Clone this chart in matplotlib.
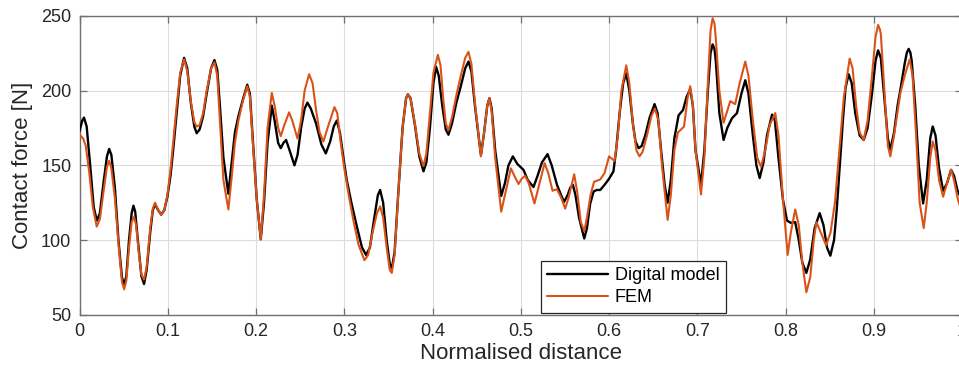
import matplotlib

matplotlib.use("Agg")
import matplotlib.pyplot as plt

# values (normalised distance, contact force in N)
dm_x = [
    0.000, 0.003, 0.005, 0.008, 0.012, 0.016, 0.0195, 0.023, 0.027, 0.031, 0.0335, 0.036,
    0.040, 0.044, 0.048, 0.0505, 0.053, 0.056, 0.059, 0.061, 0.063, 0.066, 0.070, 0.073,
    0.076, 0.080, 0.083, 0.0855, 0.089, 0.0925, 0.096, 0.0995, 0.103, 0.106, 0.110, 0.114,
    0.1184, 0.122, 0.126, 0.130, 0.1327, 0.136, 0.140, 0.144, 0.149, 0.1528, 0.156, 0.159,
    0.163, 0.1686, 0.172, 0.176, 0.180, 0.185, 0.190, 0.193, 0.196, 0.2008, 0.2053, 0.209,
    0.213, 0.2178, 0.221, 0.225, 0.228, 0.231, 0.234, 0.238, 0.2435, 0.247, 0.251, 0.255,
    0.2582, 0.262, 0.268, 0.274, 0.279, 0.284, 0.288, 0.2915, 0.295, 0.299, 0.3028, 0.308,
    0.3142, 0.320, 0.3247, 0.329, 0.334, 0.338, 0.3406, 0.344, 0.348, 0.3515, 0.3538, 0.357,
    0.361, 0.366, 0.370, 0.372, 0.375, 0.380, 0.385, 0.3897, 0.393, 0.397, 0.401, 0.404,
    0.407, 0.411, 0.415, 0.418, 0.422, 0.427, 0.432, 0.437, 0.4407, 0.444, 0.448, 0.4548,
    0.458, 0.462, 0.4645, 0.467, 0.471, 0.4778, 0.482, 0.486, 0.491, 0.496, 0.503, 0.508,
    0.5144, 0.519, 0.524, 0.5303, 0.535, 0.541, 0.545, 0.549, 0.553, 0.556, 0.559, 0.562,
    0.566, 0.5719, 0.575, 0.5785, 0.5825, 0.586, 0.590, 0.595, 0.600, 0.605, 0.608, 0.612,
    0.616, 0.6195, 0.623, 0.627, 0.630, 0.6335, 0.637, 0.641, 0.646, 0.6516, 0.655, 0.659,
    0.663, 0.6664, 0.670, 0.674, 0.6788, 0.6838, 0.688, 0.692, 0.695, 0.698, 0.7042, 0.708,
    0.712, 0.715, 0.7174, 0.7195, 0.721, 0.725, 0.7298, 0.734, 0.7393, 0.745, 0.750, 0.7544,
    0.758, 0.763, 0.767, 0.7707, 0.775, 0.779, 0.7847, 0.788, 0.792, 0.7971, 0.8017, 0.806,
    0.811, 0.815, 0.819, 0.8236, 0.828, 0.833, 0.8387, 0.843, 0.847, 0.8508, 0.855, 0.858,
    0.8614, 0.865, 0.868, 0.8716, 0.875, 0.879, 0.884, 0.8886, 0.893, 0.898, 0.902, 0.9049,
    0.908, 0.912, 0.916, 0.9188, 0.923, 0.927, 0.930, 0.935, 0.9375, 0.9396, 0.9415, 0.943,
    0.947, 0.951, 0.9559, 0.960, 0.964, 0.9668, 0.970, 0.974, 0.9786, 0.983, 0.9876, 0.991,
    0.995, 1.000,
]
dm_y = [
    173, 180, 182, 176, 150, 122, 113, 118, 138, 156, 161, 157,
    135, 100, 75, 70, 76, 100, 118, 123, 119, 100, 76, 70.5,
    80, 105, 120, 124, 120, 117, 120, 129, 143, 160, 185, 210,
    222, 215, 192, 176, 171.5, 174, 183, 198, 215, 220.5, 214, 190,
    155, 131, 150, 172, 183, 194, 204, 198, 170, 127, 100.5, 125,
    165, 190, 180, 165, 161.5, 165, 167, 160, 150, 157, 175, 188,
    192, 188, 178, 164, 158, 166, 176, 180, 172, 155, 140, 125,
    109, 95, 90, 95, 115, 130, 133.5, 125, 100, 84, 81, 92,
    130, 175, 195, 197.5, 195, 177, 156, 146, 152, 175, 205, 216,
    210, 190, 174, 170.5, 178, 192, 203, 215, 219.5, 213, 190, 157,
    170, 190, 195, 188, 160, 129.5, 138, 150, 156, 151, 147, 140,
    135.5, 143, 152, 157.5, 150, 137, 131, 125.5, 130, 135, 137, 130,
    115, 101, 108, 124, 132.5, 133.5, 133.5, 137, 141, 146, 160, 185,
    205, 211.5, 200, 178, 166, 161.5, 163, 170, 182, 191, 185, 160,
    137, 125, 140, 168, 183.5, 187, 196, 201, 190, 160, 137, 160,
    200, 225, 231, 228, 220, 185, 167, 175, 181.5, 185, 198, 207,
    198, 170, 150, 141.5, 152, 170, 184, 180, 155, 127, 113, 111.5,
    112, 100, 85, 78, 87, 108, 118, 110, 95, 89.5, 100, 120,
    149, 180, 202, 211, 205, 185, 170, 167, 175, 198, 220, 227,
    222, 195, 168, 160.5, 172, 190, 200, 218, 225.5, 228, 225.5, 220,
    190, 150, 124.5, 140, 168, 176, 170, 148, 133, 138, 147, 143,
    133, 127,
]

fem_x = [
    0.000, 0.004, 0.007, 0.011, 0.015, 0.0194, 0.023, 0.027, 0.031, 0.0335, 0.036, 0.040,
    0.044, 0.048, 0.0505, 0.053, 0.056, 0.059, 0.0617, 0.064, 0.067, 0.070, 0.073, 0.076,
    0.080, 0.083, 0.0855, 0.089, 0.0925, 0.096, 0.0995, 0.103, 0.106, 0.110, 0.114, 0.1184,
    0.122, 0.126, 0.130, 0.1327, 0.136, 0.140, 0.144, 0.149, 0.1528, 0.156, 0.159, 0.163,
    0.1686, 0.172, 0.176, 0.180, 0.185, 0.190, 0.193, 0.196, 0.2008, 0.2053, 0.209, 0.213,
    0.2178, 0.221, 0.225, 0.228, 0.232, 0.2374, 0.241, 0.2469, 0.251, 0.255, 0.2601, 0.264,
    0.268, 0.272, 0.2763, 0.281, 0.2888, 0.292, 0.296, 0.300, 0.305, 0.310, 0.316, 0.3228,
    0.327, 0.332, 0.337, 0.3406, 0.344, 0.348, 0.3515, 0.3538, 0.357, 0.361, 0.366, 0.370,
    0.372, 0.375, 0.380, 0.385, 0.3897, 0.393, 0.397, 0.401, 0.406, 0.409, 0.412, 0.415,
    0.418, 0.422, 0.427, 0.432, 0.437, 0.4407, 0.444, 0.448, 0.4548, 0.458, 0.462, 0.4645,
    0.467, 0.471, 0.4778, 0.482, 0.4888, 0.4935, 0.4974, 0.501, 0.505, 0.509, 0.5155, 0.520,
    0.527, 0.531, 0.536, 0.541, 0.546, 0.5503, 0.554, 0.5605, 0.564, 0.568, 0.5719, 0.575,
    0.579, 0.583, 0.590, 0.595, 0.600, 0.6062, 0.610, 0.614, 0.6195, 0.623, 0.627, 0.631,
    0.6345, 0.638, 0.643, 0.648, 0.652, 0.656, 0.660, 0.6664, 0.670, 0.674, 0.678, 0.6807,
    0.685, 0.689, 0.692, 0.695, 0.698, 0.7042, 0.708, 0.712, 0.715, 0.7174, 0.7195, 0.721,
    0.725, 0.7298, 0.7374, 0.743, 0.748, 0.7544, 0.758, 0.763, 0.768, 0.7722, 0.777, 0.782,
    0.7884, 0.792, 0.797, 0.8024, 0.806, 0.811, 0.815, 0.819, 0.8236, 0.828, 0.832, 0.835,
    0.840, 0.846, 0.851, 0.856, 0.861, 0.866, 0.8727, 0.876, 0.880, 0.884, 0.8886, 0.893,
    0.898, 0.902, 0.9049, 0.907, 0.908, 0.912, 0.916, 0.9188, 0.923, 0.930, 0.935, 0.9407,
    0.944, 0.948, 0.952, 0.9566, 0.960, 0.964, 0.9668, 0.970, 0.974, 0.9786, 0.983, 0.9876,
    0.991, 0.995, 1.000,
]
fem_y = [
    170.5, 168, 163, 145, 122, 109, 114, 132, 149, 153, 148, 128,
    98, 72, 67, 73, 95, 112, 115.5, 110, 92, 77, 73.5, 82,
    108, 121, 125, 120, 117, 120, 130, 147, 165, 190, 212, 221,
    213, 193, 179, 176, 177, 185, 200, 215, 219, 210, 180, 140,
    120.5, 140, 165, 180, 193, 203, 196, 168, 127, 100.5, 130, 175,
    198.5, 190, 175, 169.5, 177, 185.5, 180, 168, 180, 200, 211, 205,
    187, 172, 166, 175, 189, 185, 165, 148, 130, 114, 97, 86.5,
    90, 105, 118, 122.5, 115, 95, 80, 78, 90, 130, 175, 195,
    197.5, 195, 178, 158, 149.5, 158, 185, 212, 224, 217, 195, 178,
    173.5, 182, 197, 210, 222, 226, 218, 192, 156, 170, 190, 195,
    186, 155, 119, 130, 148, 142, 137.5, 141, 143, 138, 124.5, 135,
    151.5, 145, 133, 134, 128, 121, 128, 144, 132, 112, 106, 115,
    130, 139, 140.5, 145, 156, 153, 170, 200, 217, 205, 178, 160,
    156, 159, 170, 183, 188, 180, 150, 113.5, 130, 160, 172, 173.5,
    176, 195, 203, 190, 160, 130.5, 155, 205, 240, 248.5, 245, 235,
    200, 178.5, 193, 191, 205, 219.5, 210, 180, 155, 149, 160, 177,
    185, 170, 128, 90, 105, 120.5, 110, 85, 65, 75, 100, 112,
    105, 96.5, 105, 125, 160, 195, 221.5, 215, 190, 172, 167, 180,
    210, 236, 244, 241, 238, 200, 163, 156, 170, 198, 210, 221,
    210, 170, 125, 108, 125, 155, 166, 160, 140, 129, 138, 147,
    140, 128, 118,
]

x_ticks = [0, 0.1, 0.2, 0.3, 0.4, 0.5, 0.6, 0.7, 0.8, 0.9, 1]
x_tick_labels = ["0", "0.1", "0.2", "0.3", "0.4", "0.5", "0.6", "0.7", "0.8", "0.9", "1"]
y_ticks = [50, 100, 150, 200, 250]

plt.rcParams["font.family"] = ["Liberation Sans", "DejaVu Sans"]

W, H = 959, 373
fig = plt.figure(figsize=(W / 100, H / 100), dpi=100)
ax = fig.add_axes([79.6 / W, (H - 314.7) / H, 882.4 / W, 298.7 / H])

ax.plot(dm_x, dm_y, color="black", lw=1.7, label="Digital model", zorder=3,
        solid_joinstyle="round", solid_capstyle="round")
ax.plot(fem_x, fem_y, color="#D95319", lw=1.5, label="FEM", zorder=4,
        solid_joinstyle="round", solid_capstyle="round")

ax.set_xlim(0, 1)
ax.set_ylim(50, 250)
ax.set_xticks(x_ticks)
ax.set_xticklabels(x_tick_labels)
ax.set_yticks(y_ticks)
ax.grid(True, color="#dcdcdc", lw=0.8)
ax.set_axisbelow(True)
ax.tick_params(direction="in", length=5, width=0.9, color="#707070",
               labelsize=13, labelcolor="#262626", top=True, right=True, pad=6)
for s in ax.spines.values():
    s.set_color("#707070")
    s.set_linewidth(1.0)

ax.set_xlabel("Normalised distance", fontsize=16, color="#262626", labelpad=2)
ax.set_ylabel("Contact force [N]", fontsize=16, color="#262626", labelpad=6)

leg = ax.legend(loc="lower left", bbox_to_anchor=(540.7 / W, (H - 312.7) / H),
                bbox_transform=fig.transFigure, borderaxespad=0, fontsize=13,
                fancybox=False, framealpha=1, edgecolor="#262626",
                handlelength=3.4, handletextpad=0.35, labelspacing=0.3,
                borderpad=0.35)
leg.get_frame().set_linewidth(0.9)

fig.savefig("out.png", dpi=100)
plt.close(fig)
